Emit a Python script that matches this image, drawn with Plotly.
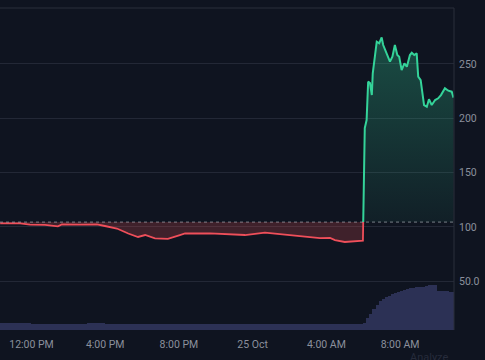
import plotly.graph_objects as go
import pandas as pd

# ---------------- data ----------------
price_times = [
    "2024-10-24 10:18", "2024-10-24 10:45", "2024-10-24 11:23", "2024-10-24 11:55",
    "2024-10-24 12:44", "2024-10-24 13:26", "2024-10-24 13:39", "2024-10-24 14:38",
    "2024-10-24 15:33", "2024-10-24 15:59", "2024-10-24 16:38", "2024-10-24 17:04",
    "2024-10-24 17:15", "2024-10-24 17:47", "2024-10-24 18:10", "2024-10-24 18:42",
    "2024-10-24 19:24", "2024-10-24 20:03", "2024-10-24 20:20", "2024-10-24 21:41",
    "2024-10-24 22:14", "2024-10-24 23:35", "2024-10-25 00:40", "2024-10-25 01:28",
    "2024-10-25 02:34", "2024-10-25 03:39", "2024-10-25 04:12", "2024-10-25 04:28",
    "2024-10-25 05:00", "2024-10-25 05:33", "2024-10-25 05:59",
    "2024-10-25 06:05", "2024-10-25 06:11", "2024-10-25 06:16", "2024-10-25 06:22",
    "2024-10-25 06:28", "2024-10-25 06:31", "2024-10-25 06:44", "2024-10-25 06:52",
    "2024-10-25 07:00", "2024-10-25 07:05", "2024-10-25 07:16", "2024-10-25 07:27",
    "2024-10-25 07:35", "2024-10-25 07:43", "2024-10-25 07:51", "2024-10-25 07:57",
    "2024-10-25 08:05", "2024-10-25 08:14", "2024-10-25 08:22", "2024-10-25 08:32",
    "2024-10-25 08:38", "2024-10-25 08:46", "2024-10-25 08:54", "2024-10-25 08:59",
    "2024-10-25 09:07", "2024-10-25 09:18", "2024-10-25 09:27", "2024-10-25 09:34",
    "2024-10-25 09:43", "2024-10-25 09:54", "2024-10-25 10:04", "2024-10-25 10:13",
    "2024-10-25 10:26", "2024-10-25 10:37", "2024-10-25 10:48", "2024-10-25 10:54",
]
price_values = [
    103.4, 103.5, 103.4, 102.1,
    102.0, 100.5, 102.3, 102.2,
    102.3, 100.9, 98.6, 95.4,
    94.0, 90.8, 92.6, 89.6,
    89.0, 92.6, 94.0, 94.2,
    93.6, 92.6, 94.8, 93.6,
    91.7, 89.7, 89.9, 88.0,
    86.2, 87.1, 87.5,
    191.0, 198.4, 233.7, 232.5,
    221.4, 241.4, 270.5, 269.0,
    274.5, 267.4, 259.8, 252.1,
    256.7, 267.4, 258.2, 256.7,
    244.4, 250.6, 247.5, 258.2,
    260.3, 258.2, 259.8, 238.3,
    235.2, 212.2, 210.7, 217.5,
    212.2, 216.8, 218.4, 221.4,
    227.6, 225.4, 224.5, 219.0,
]
baseline_value = 104.5

volume_times = (
    [f"2024-10-24 {h:02d}:00" for h in range(10, 24)]
    + [f"2024-10-25 {h:02d}:00" for h in range(0, 6)]
    + [f"2024-10-25 {h:02d}:{m:02d}" for h in range(6, 11) for m in range(0, 60, 10)]
)
volume_values = [
    2.1, 2.1, 2.0, 2.0, 2.0, 2.1, 2.0, 2.0, 1.9, 2.0,
    2.0, 2.0, 2.0, 2.0, 2.0, 2.0, 2.0, 2.0, 2.0, 2.0,
    2.2, 3.7, 5.1, 6.5, 7.8, 8.9, 9.6, 10.1, 10.6, 11.1,
    11.6, 11.9, 12.2, 12.4, 12.7, 12.9, 13.1, 13.3, 13.4, 13.4,
    13.7, 13.9, 14.0, 14.1, 12.0, 12.0, 12.0, 12.0, 11.8, 11.8,
]

y_tick_vals = [50, 100, 150, 200, 250]
y_tick_text = ["50.0", "100", "150", "200", "250"]
x_tick_vals = ["2024-10-24 12:00", "2024-10-24 16:00", "2024-10-24 20:00",
               "2024-10-25 00:00", "2024-10-25 04:00", "2024-10-25 08:00"]
x_tick_text = ["12:00 PM", "4:00 PM", "8:00 PM", "25 Oct", "4:00 AM", "8:00 AM"]

# ---------------- styles ----------------
BG = "#0f1420"
GRID = "#232836"
FRAME = "#2a2e3b"
TXT = "#8b909c"
GREEN = "#34d399"
RED = "#ef4f5a"
VOL = "#2c3155"
FONT = "Roboto"

# ---------------- build ----------------
ts = list(pd.to_datetime(price_times))
vs = price_values


def split_baseline(ts, vs, base):
    segs = []
    sign = vs[0] >= base
    cur_t, cur_v = [ts[0]], [vs[0]]
    for i in range(1, len(ts)):
        s = vs[i] >= base
        if s != sign:
            frac = (base - vs[i - 1]) / (vs[i] - vs[i - 1])
            tc = ts[i - 1] + (ts[i] - ts[i - 1]) * frac
            cur_t.append(tc)
            cur_v.append(base)
            segs.append((sign, cur_t, cur_v))
            cur_t, cur_v, sign = [tc], [base], s
        cur_t.append(ts[i])
        cur_v.append(vs[i])
    segs.append((sign, cur_t, cur_v))
    return segs


fig = go.Figure()

# volume bars (secondary axis)
vt = list(pd.to_datetime(volume_times))
widths = []
for i in range(len(vt)):
    if i < len(vt) - 1:
        widths.append((vt[i + 1] - vt[i]).total_seconds() * 1000)
    else:
        widths.append(widths[-1])
fig.add_trace(go.Bar(
    x=vt, y=volume_values, width=widths, offset=0,
    marker=dict(color=VOL, line=dict(width=0)),
    yaxis="y2", hoverinfo="skip", showlegend=False,
))

for above, st, sv in split_baseline(ts, vs, baseline_value):
    fig.add_trace(go.Scatter(
        x=st, y=[baseline_value] * len(st), mode="lines",
        line=dict(width=0), hoverinfo="skip", showlegend=False,
    ))
    if above:
        fig.add_trace(go.Scatter(
            x=st, y=sv, mode="lines", fill="tonexty",
            line=dict(color=GREEN, width=2),
            fillgradient=dict(
                type="vertical", start=baseline_value, stop=max(sv),
                colorscale=[[0, "rgba(52,211,153,0.06)"], [1, "rgba(52,211,153,0.30)"]],
            ),
            showlegend=False,
        ))
    else:
        fig.add_trace(go.Scatter(
            x=st, y=sv, mode="lines", fill="tonexty",
            line=dict(color=RED, width=1.8),
            fillcolor="rgba(239,83,80,0.22)",
            showlegend=False,
        ))

fig.update_layout(
    width=485, height=360,
    margin=dict(l=0, r=31, t=8, b=30),
    paper_bgcolor=BG, plot_bgcolor=BG,
    font=dict(family=FONT, size=10.5, color=TXT),
    bargap=0,
    hovermode=False,
    xaxis=dict(
        type="date",
        range=["2024-10-24 10:17:30", "2024-10-25 10:55:30"],
        tickvals=x_tick_vals, ticktext=x_tick_text,
        showgrid=False, zeroline=False, showline=False, ticks="",
        ticklabelstandoff=6,
        tickfont=dict(family=FONT, size=10.5, color=TXT),
    ),
    yaxis=dict(
        side="right", range=[5.2, 301.5],
        tickvals=y_tick_vals, ticktext=y_tick_text,
        showgrid=True, gridcolor=GRID, gridwidth=1,
        zeroline=False, showline=False, ticks="",
        ticklabelstandoff=4,
        tickfont=dict(family=FONT, size=10.5, color=TXT),
    ),
    yaxis2=dict(
        overlaying="y", range=[0, 100], visible=False,
    ),
    shapes=[
        dict(type="line", xref="paper", yref="y", x0=0, x1=1,
             y0=baseline_value, y1=baseline_value,
             line=dict(color="rgba(190,195,205,0.6)", width=1, dash="dot")),
        dict(type="line", xref="paper", yref="paper", x0=0, x1=1, y0=1, y1=1,
             line=dict(color=FRAME, width=1)),
        dict(type="line", xref="paper", yref="paper", x0=1, x1=1, y0=0, y1=1,
             line=dict(color=FRAME, width=1)),
    ],
    annotations=[
        dict(text="Analyze", xref="paper", yref="paper", x=0.945, y=-0.084,
             xanchor="center", yanchor="middle", showarrow=False,
             font=dict(family=FONT, size=11, color="#262b3b")),
    ],
)

fig.write_html(
    "out.html",
    config={"displayModeBar": False, "staticPlot": True},
    post_script="document.body.style.margin='0';document.body.style.background='#0f1420';",
)
